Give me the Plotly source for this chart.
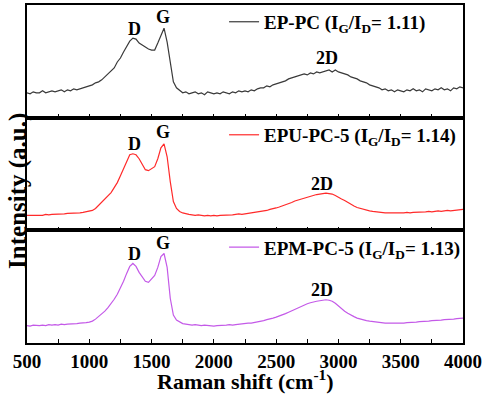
import plotly.graph_objects as go
from plotly.subplots import make_subplots

# Raman shift grid (cm^-1)
raman_shift = list(range(500, 4001, 25))

ep_pc = [
    25, 24, 26, 25, 25, 27, 25, 26, 27, 26, 27, 28, 26, 28, 27, 29, 28, 29, 30, 31,
    32, 33, 35, 36, 38, 41, 43, 47, 50, 56, 60, 66, 71, 77, 80, 79, 75, 73, 71, 69,
    68, 68, 75, 83, 90, 76, 55, 36, 30, 27, 25, 26, 24, 25, 26, 24, 25, 23, 26, 25,
    24, 25, 24, 26, 25, 24, 26, 25, 27, 26, 27, 26, 28, 27, 29, 30, 30, 32, 31, 33,
    34, 35, 36, 37, 39, 40, 41, 42, 43, 44, 43, 45, 44, 46, 45, 46, 47, 48, 46, 48,
    46, 45, 44, 43, 41, 40, 39, 37, 36, 35, 33, 32, 31, 30, 28, 29, 27, 28, 26, 28,
    27, 26, 28, 27, 29, 27, 28, 26, 29, 28, 27, 29, 28, 30, 28, 29, 27, 30, 29, 31,
    30,
]

epu_pc_5 = [
    15, 15, 15.5, 15, 15.5, 15, 16, 15.5, 16, 16, 16.5, 16, 16.5, 17, 17, 17, 17.5, 17.5, 18, 18.5,
    19, 20, 22, 25, 28, 31, 34, 38, 43, 48, 55, 62, 70, 76, 77, 76, 72, 66, 61, 60,
    62, 64, 72, 83, 87, 74, 49, 29, 22, 19, 17.5, 16.5, 16, 15.5, 15, 15.5, 15, 14.5, 15, 14.5,
    15, 14.5, 15, 15, 15.5, 15, 15.5, 16, 16.5, 16, 16.5, 17, 17, 17.5, 18, 18.5, 19, 20, 21, 21.5,
    22.5, 23.5, 24.5, 25.5, 27, 28, 29.5, 30.5, 31.5, 32.5, 33.5, 34.5, 35.5, 36, 36.5, 37, 37.5, 37, 36.5, 35,
    33, 31.5, 30, 28, 26, 24.5, 23, 22, 21, 20, 19.5, 19, 18.5, 18, 18, 17.5, 17.5, 17.5, 17, 17.5,
    17.5, 17.5, 18, 17.5, 18, 18, 18.5, 18, 18.5, 19, 18.5, 19, 19.5, 19, 19.5, 20, 19.5, 20, 20.5, 20.5,
    21,
]

epm_pc_5 = [
    17.5, 17, 18, 17.5, 17.5, 18, 17.5, 18.5, 18, 18.5, 18, 19, 18.5, 19, 19, 19.5, 19.5, 20, 20, 20.5,
    21, 22, 24, 26.5, 29, 32, 35.5, 39.5, 44, 49, 55, 62, 70, 77, 80, 77, 71, 66, 62, 61,
    64, 68, 76, 87, 90, 76, 45, 28, 23, 21, 19.5, 19, 18.5, 18, 18.5, 18, 17.5, 18, 17.5, 17.5,
    17, 17.5, 17.5, 18, 18, 18.5, 18, 18.5, 19, 19.5, 19.5, 20, 20, 20.5, 21, 22, 22.5, 23.5, 24, 25,
    26, 27, 28, 29.5, 31, 32.5, 34, 35.5, 37, 38, 39.5, 40.5, 41.5, 42, 42.5, 43, 43.5, 43, 42, 40,
    37, 34.5, 32, 30, 28, 26.5, 25, 24, 23.5, 22.5, 22, 21.5, 21, 20.5, 20.5, 20, 20, 20, 19.5, 20,
    20, 20, 20.5, 20.5, 21, 21, 21.5, 21.5, 22, 22, 22.5, 22.5, 23, 23, 23.5, 23.5, 24, 24, 24.5, 25,
    25,
]

series_names = [
    "EP-PC (I<sub>G</sub>/I<sub>D</sub>= 1.11)",
    "EPU-PC-5 (I<sub>G</sub>/I<sub>D</sub>= 1.14)",
    "EPM-PC-5 (I<sub>G</sub>/I<sub>D</sub>= 1.13)",
]
series_values = [ep_pc, epu_pc_5, epm_pc_5]
series_colors = ["#3a3a3a", "#ff2a2a", "#c45ae8"]

peak_labels = ["D", "G", "2D"]
peak_x = [[1359, 1594, 2908], [1359, 1594, 2866], [1359, 1594, 2866]]
peak_y = [[89, 101, 60], [87, 99, 47], [89, 101, 53]]

x_ticks = [500, 1000, 1500, 2000, 2500, 3000, 3500, 4000]

FONT = "Liberation Serif"

fig = make_subplots(rows=3, cols=1, shared_xaxes=True, vertical_spacing=0)

legend_ids = ["legend", "legend2", "legend3"]
for i in range(3):
    fig.add_trace(
        go.Scatter(
            x=raman_shift, y=series_values[i], mode="lines",
            line=dict(color=series_colors[i], width=1.2),
            name=series_names[i], legend=legend_ids[i], showlegend=True,
        ),
        row=i + 1, col=1,
    )
    for lab, px, py in zip(peak_labels, peak_x[i], peak_y[i]):
        fig.add_annotation(
            x=px, y=py, text=lab, showarrow=False,
            xref=f"x{'' if i == 0 else i + 1}", yref=f"y{'' if i == 0 else i + 1}",
            font=dict(family=FONT, size=18, color="black", weight="bold"),
        )

for i in range(1, 4):
    fig.update_xaxes(
        range=[500, 4000], tickvals=x_ticks, ticks="inside", ticklen=4, tickwidth=1,
        tickcolor="black",
        minor=dict(ticks="inside", dtick=250, tick0=500, ticklen=4, tickcolor="black", tickwidth=1),
        showline=True, mirror=True, linecolor="black", linewidth=1.5,
        showgrid=False, zeroline=False,
        showticklabels=(i == 3),
        tickfont=dict(family=FONT, size=19, color="black", weight="bold"),
        row=i, col=1,
    )
    fig.update_yaxes(
        range=[0, 113.3], showticklabels=False, ticks="",
        showline=True, mirror=True, linecolor="black", linewidth=1.5,
        showgrid=False, zeroline=False,
        row=i, col=1,
    )

legend_ys = [0.95, 0.6156, 0.283]
leg_font = dict(family=FONT, size=19, color="black", weight="bold")
layout_legends = {}
for lid, ly in zip(legend_ids, legend_ys):
    layout_legends[lid] = dict(
        x=0.452, y=ly, xanchor="left", yanchor="middle",
        bgcolor="rgba(0,0,0,0)", borderwidth=0, font=leg_font,
    )

fig.update_layout(
    width=484, height=395,
    margin=dict(l=27, r=21, t=3, b=52),
    paper_bgcolor="white", plot_bgcolor="white",
    **layout_legends,
)

fig.add_annotation(
    x=0.5, y=-0.109, xref="paper", yref="paper", showarrow=False,
    text="Raman shift (cm<sup>-1</sup>)", yanchor="middle",
    font=dict(family=FONT, size=22, color="black", weight="bold"),
)
fig.add_annotation(
    x=-0.0206, y=0.45, xref="paper", yref="paper", showarrow=False,
    text="Intensity (a.u.)", textangle=-90, xanchor="center", yanchor="middle",
    font=dict(family=FONT, size=25, color="black", weight="bold"),
)

fig.write_html("out.html", config={"displayModeBar": False})

# remove default page margin so the figure sits at the window's top-left corner
with open("out.html", "r", encoding="utf-8") as f:
    html = f.read()
html = html.replace("<body>", '<body style="margin:0;padding:0;">', 1)
html = html.replace("<head>", '<head><style>html,body{margin:0;padding:0;overflow:hidden;}</style>', 1)
with open("out.html", "w", encoding="utf-8") as f:
    f.write(html)
